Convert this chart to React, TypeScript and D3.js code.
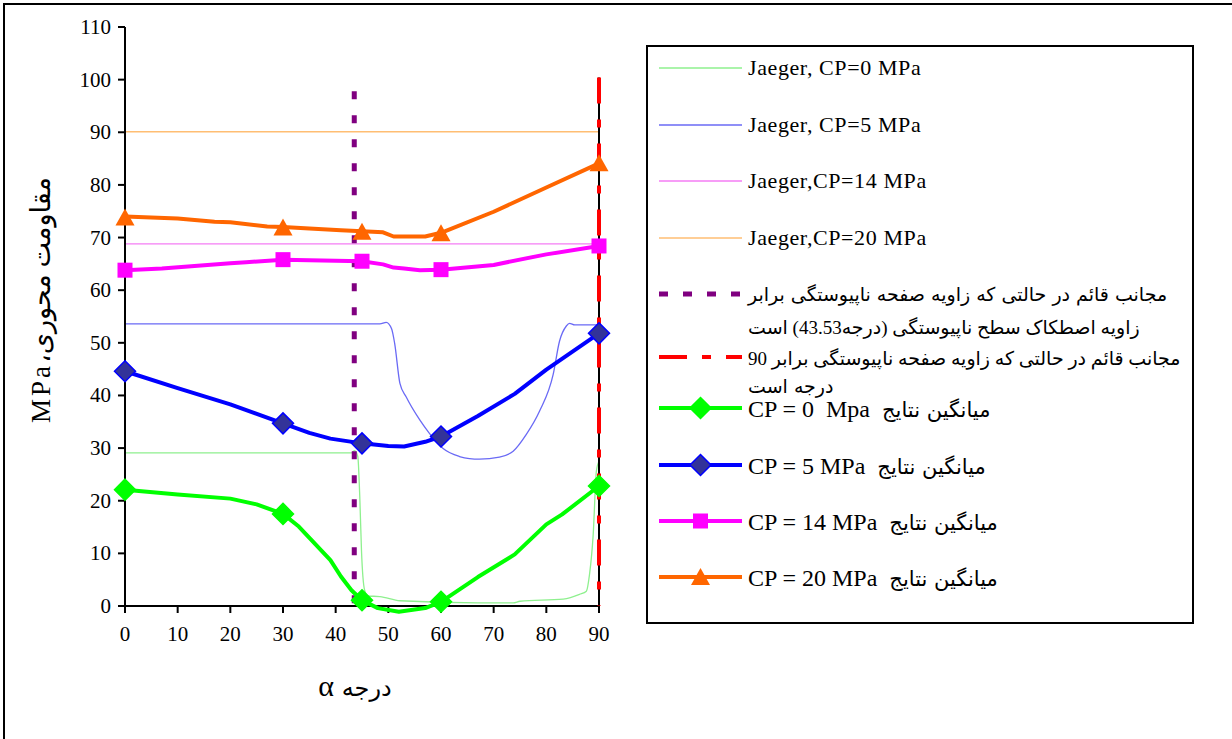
import React from "react";
import * as d3 from "d3";

// ---- data ----
const alphaTicks = [0, 10, 20, 30, 40, 50, 60, 70, 80, 90];
const strengthTicks = [0, 10, 20, 30, 40, 50, 60, 70, 80, 90, 100, 110];

const markerAlpha = [0, 30, 45, 60, 90];
const cp0Markers = [22.1, 17.5, 1.1, 0.8, 22.8];
const cp5Markers = [44.6, 34.7, 30.9, 32.2, 51.8];
const cp14Markers = [63.8, 65.8, 65.5, 63.9, 68.4];
const cp20Markers = [73.8, 71.9, 71.1, 70.8, 84.1];

const cp0LineAlpha = [0, 10, 20, 25, 30, 33, 39, 41, 43, 45, 48, 52, 57, 60, 67, 74, 80, 83, 90];
const cp0LineValues = [22.1, 21.2, 20.4, 19.3, 17.5, 15.1, 8.7, 5.6, 3.0, 1.1, -0.4, -1.1, -0.4, 0.8, 5.5, 9.8, 15.5, 17.4, 22.8];

const cp5LineAlpha = [0, 10, 20, 30, 35, 39, 45, 50, 53, 57, 60, 67, 74, 80, 90];
const cp5LineValues = [44.6, 41.4, 38.3, 34.7, 32.9, 31.8, 30.9, 30.4, 30.3, 31.2, 32.2, 36.1, 40.3, 44.9, 51.8];

const cp14LineAlpha = [0, 7, 20, 23, 30, 45, 49, 51, 53, 56, 60, 70, 80, 90];
const cp14LineValues = [63.8, 64.1, 65.1, 65.3, 65.8, 65.5, 64.9, 64.3, 64.1, 63.8, 63.9, 64.8, 66.8, 68.4];

const cp20LineAlpha = [0, 10, 17, 20, 27, 30, 35, 41, 45, 49, 51, 57, 60, 70, 80, 90];
const cp20LineValues = [74.0, 73.6, 73.0, 72.9, 72.1, 72.0, 71.7, 71.4, 71.2, 71.0, 70.2, 70.2, 70.9, 74.9, 79.5, 84.1];

const jaeger0Alpha = [0, 43, 43.6, 44.2, 44.6, 44.9, 45.5, 46.1, 48.4, 52.2, 67, 73.7, 75, 83.2, 86.3, 87.6, 88.2, 88.9, 89.5, 90];
const jaeger0Values = [29.1, 29.1, 29.5, 28.4, 20.1, 10.6, 3.0, 1.9, 1.8, 1.0, 0.6, 0.6, 0.9, 1.3, 2.2, 2.8, 6.0, 13.6, 25.6, 27.5];

const jaeger5Alpha = [0, 48.4, 49.6, 50.6, 51.2, 52.2, 53.4, 56, 57.8, 60.4, 63.5, 65.4, 67.3, 71.1, 73.7, 76.2, 78.7, 81.3, 82.5, 83.8, 84.4, 85.4, 90];
const jaeger5Values = [53.6, 53.6, 53.9, 52.7, 49.9, 42.3, 39.7, 35.3, 32.8, 29.9, 28.4, 28.0, 27.9, 28.3, 29.4, 32.6, 37.0, 44.0, 50.3, 53.2, 53.7, 53.4, 53.4];

const jaeger14Alpha = [0, 90];
const jaeger14Values = [68.8, 68.8];
const jaeger20Alpha = [0, 90];
const jaeger20Values = [90.1, 90.1];

const frictionAsymptoteAlpha = 43.53;
const frictionAsymptoteRange = [0, 97.8];
const rightAsymptoteAlpha = 90;
const rightAsymptoteRange = [0, 100.4];

const jaegerNames = ["Jaeger, CP=0 MPa", "Jaeger, CP=5 MPa", "Jaeger,CP=14 MPa", "Jaeger,CP=20 MPa"];
const asymptoteName1 = ["مجانب قائم در حالتی که زاویه صفحه ناپیوستگی برابر", "زاویه اصطکاک سطح ناپیوستگی (درجه43.53) است"];
const asymptoteName2 = ["مجانب قائم در حالتی که زاویه صفحه ناپیوستگی برابر 90", "درجه است"];
const meanNamesLatin = ["CP = 0  Mpa", "CP = 5 MPa", "CP = 14 MPa", "CP = 20 MPa"];
const meanNamePersian = "میانگین نتایج";
const yTitle = "مقاومت محوری،MPa";
const xTitleGreek = "α";
const xTitlePersian = "درجه";

// ---- styles ----
const SERIF = "'Liberation Serif', 'Times New Roman', serif";
const ARAB = "'DejaVu Sans', sans-serif";

const x = d3.scaleLinear().domain([0, 90]).range([125, 599]);
const y = d3.scaleLinear().domain([0, 110]).range([606, 27]);

const zip = (a: number[], b: number[]) => a.map((v, i) => [v, b[i]] as [number, number]);

const linear = d3.line<[number, number]>().x((d) => x(d[0])).y((d) => y(d[1]));
const smooth = d3
  .line<[number, number]>()
  .x((d) => x(d[0]))
  .y((d) => y(d[1]))
  .curve(d3.curveMonotoneX);

function Diamond({ cx, cy, fill, stroke }: { cx: number; cy: number; fill: string; stroke: string }) {
  const r = 10.5;
  return (
    <path
      d={`M${cx},${cy - r}L${cx + r},${cy}L${cx},${cy + r}L${cx - r},${cy}Z`}
      fill={fill}
      stroke={stroke}
      strokeWidth={1.5}
    />
  );
}
function Square({ cx, cy, fill }: { cx: number; cy: number; fill: string }) {
  const s = 15;
  return <rect x={cx - s / 2} y={cy - s / 2} width={s} height={s} fill={fill} />;
}
function Triangle({ cx, cy, fill }: { cx: number; cy: number; fill: string }) {
  const w = 19;
  const h = 16;
  return <path d={`M${cx},${cy - h / 2 - 1}L${cx + w / 2},${cy + h / 2}L${cx - w / 2},${cy + h / 2}Z`} fill={fill} />;
}

export default function App() {
  const jaegerSeries = [
    { a: jaeger0Alpha, v: jaeger0Values, color: "#8ef08e" },
    { a: jaeger5Alpha, v: jaeger5Values, color: "#6a6af5" },
    { a: jaeger14Alpha, v: jaeger14Values, color: "#f47cf4" },
    { a: jaeger20Alpha, v: jaeger20Values, color: "#ffbe73" },
  ];
  const meanSeries = [
    { a: cp0LineAlpha, v: cp0LineValues, m: cp0Markers, color: "#00ff00", kind: "diamond", mfill: "#00ff00" },
    { a: cp5LineAlpha, v: cp5LineValues, m: cp5Markers, color: "#0000ff", kind: "diamond", mfill: "#333399" },
    { a: cp14LineAlpha, v: cp14LineValues, m: cp14Markers, color: "#ff00ff", kind: "square", mfill: "#ff00ff" },
    { a: cp20LineAlpha, v: cp20LineValues, m: cp20Markers, color: "#ff6600", kind: "triangle", mfill: "#ff6600" },
  ];

  const marker = (kind: string, cx: number, cy: number, color: string, fill: string, key?: any) => {
    if (kind === "diamond") return <Diamond key={key} cx={cx} cy={cy} fill={fill} stroke={color} />;
    if (kind === "square") return <Square key={key} cx={cx} cy={cy} fill={fill} />;
    return <Triangle key={key} cx={cx} cy={cy} fill={fill} />;
  };

  const lgX0 = 659;
  const lgX1 = 742;
  const lgText = 748;
  const jaegerRows = [68, 125, 181, 238];
  const meanRows = [408, 465, 521, 577];

  return (
    <svg
      width={1232}
      height={739}
      style={{ position: "absolute", left: 0, top: 0, background: "#fff" }}
    >
      <rect x={0} y={0} width={1232} height={739} fill="#fff" />
      {/* outer frame */}
      <rect x={4} y={4} width={1250} height={760} fill="none" stroke="#000" strokeWidth={2} />

      {/* Jaeger thin lines */}
      {jaegerSeries.map((s, i) => (
        <path key={i} d={smooth(zip(s.a, s.v)) || ""} fill="none" stroke={s.color} strokeWidth={1.3} />
      ))}

      {/* right vertical black line under red */}
      <line
        x1={x(rightAsymptoteAlpha)}
        x2={x(rightAsymptoteAlpha)}
        y1={y(rightAsymptoteRange[0])}
        y2={y(rightAsymptoteRange[1])}
        stroke="#000"
        strokeWidth={2}
      />

      {/* axes */}
      <line x1={x(0)} x2={x(0)} y1={y(0)} y2={y(110)} stroke="#000" strokeWidth={2} />
      <line x1={x(0)} x2={x(90)} y1={y(0)} y2={y(0)} stroke="#000" strokeWidth={2} />
      {strengthTicks.map((t) => (
        <g key={"yt" + t}>
          <line x1={x(0) - 7} x2={x(0)} y1={y(t)} y2={y(t)} stroke="#000" strokeWidth={2} />
          <text x={x(0) - 14} y={y(t) + 7} textAnchor="end" fontFamily={SERIF} fontSize={21} fill="#000">
            {t}
          </text>
        </g>
      ))}
      {alphaTicks.map((t) => (
        <g key={"xt" + t}>
          <line x1={x(t)} x2={x(t)} y1={y(0)} y2={y(0) + 7} stroke="#000" strokeWidth={2} />
          <text x={x(t)} y={y(0) + 35} textAnchor="middle" fontFamily={SERIF} fontSize={21} fill="#000">
            {t}
          </text>
        </g>
      ))}

      {/* asymptotes */}
      <line
        x1={x(frictionAsymptoteAlpha)}
        x2={x(frictionAsymptoteAlpha)}
        y1={y(frictionAsymptoteRange[1])}
        y2={y(frictionAsymptoteRange[0])}
        stroke="#800080"
        strokeWidth={5}
        strokeDasharray="8,16"
      />

      {/* mean result lines */}
      {meanSeries.map((s, i) => (
        <g key={"m" + i}>
          <path d={linear(zip(s.a, s.v)) || ""} fill="none" stroke={s.color} strokeWidth={4} strokeLinejoin="round" />
        </g>
      ))}

      <line
        x1={x(rightAsymptoteAlpha)}
        x2={x(rightAsymptoteAlpha)}
        y1={y(rightAsymptoteRange[1])}
        y2={y(rightAsymptoteRange[0])}
        stroke="#ff0000"
        strokeWidth={4}
        strokeDasharray="26,16,8,16"
      />

      {meanSeries.map((s, i) => (
        <g key={"mk" + i}>{markerAlpha.map((a, j) => marker(s.kind, x(a), y(s.m[j]), s.color, s.mfill, j))}</g>
      ))}

      {/* axis titles */}
      <text
        transform={`translate(50,300) rotate(-90)`}
        textAnchor="middle"
        direction="rtl"
        fontFamily={`${SERIF}, ${ARAB}`}
        fontSize={27}
        letterSpacing={3}
        fill="#000"
      >
        {yTitle}
      </text>
      <text x={355} y={696} textAnchor="middle" fill="#000">
        <tspan fontFamily={SERIF} fontSize={30}>
          {xTitleGreek}
        </tspan>
        <tspan fontFamily={ARAB} fontSize={24}>
          {" " + xTitlePersian}
        </tspan>
      </text>

      {/* legend */}
      <rect x={647} y={46} width={546} height={577} fill="#fff" stroke="#000" strokeWidth={2} />
      {jaegerSeries.map((s, i) => (
        <g key={"lj" + i}>
          <line x1={lgX0} x2={lgX1} y1={jaegerRows[i]} y2={jaegerRows[i]} stroke={s.color} strokeWidth={1.3} />
          <text x={lgText} y={jaegerRows[i] + 7} fontFamily={SERIF} fontSize={22} fill="#000" letterSpacing={0.6}>
            {jaegerNames[i]}
          </text>
        </g>
      ))}
      <line x1={lgX0} x2={lgX1} y1={294} y2={294} stroke="#800080" strokeWidth={5} strokeDasharray="9,15" />
      <text x={lgText} y={301} fontFamily={ARAB} fontSize={19} fill="#000" direction="rtl" textAnchor="end">
        {asymptoteName1[0]}
      </text>
      <text x={lgText} y={334} fontFamily={`${SERIF}, ${ARAB}`} fontSize={19} fill="#000" direction="rtl" textAnchor="end">
        {asymptoteName1[1]}
      </text>
      <line x1={lgX0} x2={lgX1} y1={357} y2={357} stroke="#ff0000" strokeWidth={4} strokeDasharray="28,15,9,15" />
      <text x={lgText} y={365} fontFamily={`${SERIF}, ${ARAB}`} fontSize={19} fill="#000" direction="rtl" textAnchor="end">
        {asymptoteName2[0]}
      </text>
      <text x={lgText} y={393} fontFamily={ARAB} fontSize={19} fill="#000" direction="rtl" textAnchor="end">
        {asymptoteName2[1]}
      </text>
      {meanSeries.map((s, i) => (
        <g key={"lm" + i}>
          <line x1={lgX0} x2={lgX1} y1={meanRows[i]} y2={meanRows[i]} stroke={s.color} strokeWidth={4} />
          {marker(s.kind, (lgX0 + lgX1) / 2, meanRows[i], s.color, s.mfill)}
          <text x={lgText} y={meanRows[i] + 9} fill="#000" style={{ whiteSpace: "pre" }}>
            <tspan fontFamily={SERIF} fontSize={24}>
              {meanNamesLatin[i] + "  "}
            </tspan>
            <tspan fontFamily={ARAB} fontSize={21}>
              {meanNamePersian}
            </tspan>
          </text>
        </g>
      ))}
    </svg>
  );
}
